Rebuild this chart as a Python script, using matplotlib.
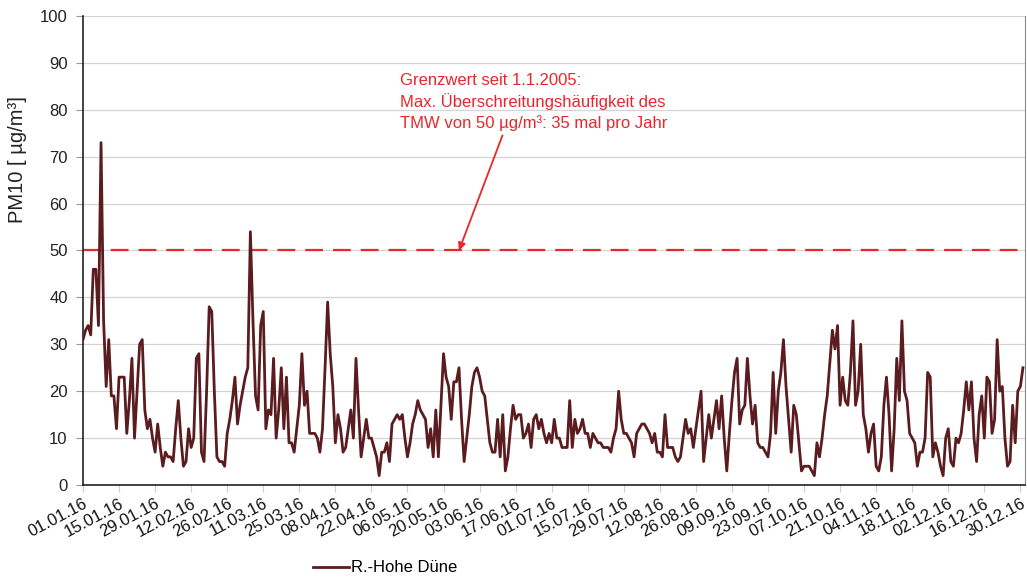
import numpy as np
import pandas as pd
import matplotlib
matplotlib.use("Agg")
import matplotlib.pyplot as plt

plt.rcParams['font.family'] = ['Liberation Sans', 'DejaVu Sans']

# PM10 daily means 2016, station R.-Hohe Düne [µg/m³]
pm10 = [
    31, 33, 34, 32, 46, 46, 34, 73, 35, 21,
    31, 19, 19, 12, 23, 23, 23, 11, 18, 27,
    10, 20, 30, 31, 16, 12, 14, 10, 7, 13,
    8, 4, 7, 6, 6, 5, 12, 18, 10, 4,
    5, 12, 8, 10, 27, 28, 7, 5, 20, 38,
    37, 20, 6, 5, 5, 4, 11, 14, 18, 23,
    13, 17, 20, 23, 25, 54, 35, 19, 16, 34,
    37, 12, 16, 15, 27, 10, 16, 25, 12, 23,
    9, 9, 7, 12, 17, 28, 17, 20, 11, 11,
    11, 10, 7, 12, 25, 39, 28, 21, 9, 15,
    12, 7, 8, 12, 16, 10, 27, 16, 6, 10,
    14, 10, 10, 8, 6, 2, 7, 7, 9, 5,
    13, 14, 15, 14, 15, 10, 6, 9, 13, 15,
    18, 16, 15, 14, 8, 12, 6, 16, 6, 17,
    28, 23, 21, 14, 22, 22, 25, 14, 5, 10,
    15, 21, 24, 25, 23, 20, 19, 14, 9, 7,
    7, 14, 6, 15, 3, 6, 12, 17, 14, 15,
    15, 10, 11, 13, 8, 14, 15, 12, 14, 11,
    9, 11, 9, 14, 10, 10, 8, 8, 8, 18,
    8, 14, 11, 12, 14, 11, 11, 8, 11, 10,
    9, 9, 8, 8, 8, 7, 10, 12, 20, 14,
    11, 11, 10, 9, 6, 11, 12, 13, 13, 12,
    11, 9, 11, 7, 7, 6, 15, 8, 8, 8,
    6, 5, 6, 10, 14, 11, 12, 8, 12, 16,
    20, 5, 10, 15, 10, 14, 18, 12, 19, 10,
    3, 11, 18, 24, 27, 13, 16, 17, 27, 19,
    13, 17, 9, 8, 8, 7, 6, 11, 24, 11,
    20, 24, 31, 21, 14, 7, 17, 15, 9, 3,
    4, 4, 4, 3, 2, 9, 6, 10, 15, 19,
    26, 33, 29, 34, 17, 23, 18, 17, 24, 35,
    17, 20, 30, 15, 12, 7, 11, 13, 4, 3,
    6, 17, 23, 15, 3, 12, 27, 18, 35, 20,
    18, 11, 10, 9, 4, 7, 7, 10, 24, 23,
    6, 9, 7, 4, 2, 10, 12, 5, 4, 10,
    9, 11, 16, 22, 16, 22, 10, 5, 15, 19,
    10, 23, 22, 11, 14, 31, 20, 21, 10, 4,
    5, 17, 9, 20, 21, 25,
]
start_date = "01.01.16"
date_labels = [
    "01.01.16", "15.01.16", "29.01.16", "12.02.16", "26.02.16", "11.03.16",
    "25.03.16", "08.04.16", "22.04.16", "06.05.16", "20.05.16", "03.06.16",
    "17.06.16", "01.07.16", "15.07.16", "29.07.16", "12.08.16", "26.08.16",
    "09.09.16", "23.09.16", "07.10.16", "21.10.16", "04.11.16", "18.11.16",
    "02.12.16", "16.12.16", "30.12.16",
]
limit_value = 50
series_name = "R.-Hohe Düne"
note = ("Grenzwert seit 1.1.2005:\n"
        "Max. Überschreitungshäufigkeit des\n"
        "TMW von 50 µg/m³: 35 mal pro Jahr")

days = np.arange(len(pm10))
t0 = pd.to_datetime(start_date, format="%d.%m.%y")
tick_days = [(pd.to_datetime(s, format="%d.%m.%y") - t0).days for s in date_labels]

fig = plt.figure(figsize=(10.27, 5.81), dpi=100)
ax = fig.add_axes([83/1027, 1-485/581, 942/1027, 469/581])

ax.plot(days, pm10, color='#5b1c1f', lw=2.0, label=series_name, zorder=3)
ax.axhline(limit_value, color='#e8262c', lw=1.6, dashes=(8, 4.5), zorder=2)

ax.annotate(note, xy=(146, limit_value), xytext=(123, 87.8), color='#e8262c',
            fontsize=12, va='top', ha='left', linespacing=1.38,
            arrowprops=dict(arrowstyle='-|>', color='#e8262c', lw=1.3,
                            shrinkA=1, shrinkB=0, mutation_scale=11,
                            relpos=(0.39, 0.0)))

ax.set_xlim(0, 365.8)
ax.set_ylim(0, 100)
ax.set_yticks(np.arange(0, 101, 10))
ax.set_xticks(tick_days)
ax.set_xticklabels(date_labels, rotation=28, ha='right', rotation_mode='anchor')
ax.tick_params(axis='x', length=5, color='#cfcfcf', labelsize=12, pad=3, labelcolor='#111')
ax.tick_params(axis='y', length=5, color='#999999', labelsize=12, pad=6, labelcolor='#222')
ax.grid(axis='y', color='#d4d4d4', lw=0.9)
ax.set_axisbelow(True)

for side in ['left', 'bottom']:
    ax.spines[side].set_color('#222222')
    ax.spines[side].set_linewidth(1.2)
ax.spines['right'].set_color('#8a8a8a')
ax.spines['top'].set_visible(False)

fig.text(18/1027, 1-160/581, "PM10 [ µg/m³]", rotation=90, ha='center', va='center',
         fontsize=14.5, color='#222')

fig.legend(loc='center', bbox_to_anchor=(385/1027, 1-568/581), frameon=False,
           fontsize=12, handlelength=2.2, handletextpad=0.1)

fig.savefig("out.png", dpi=100)
